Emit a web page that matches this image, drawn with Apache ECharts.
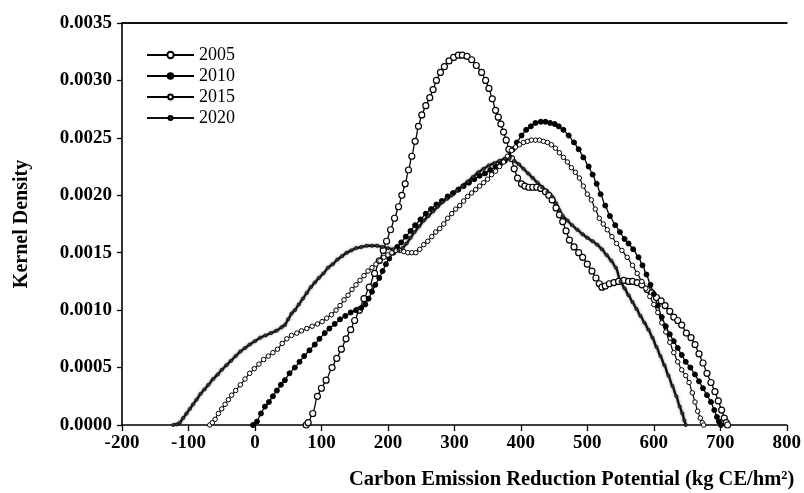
<!DOCTYPE html>
<html><head><meta charset="utf-8">
<script src="https://cdn.jsdelivr.net/npm/echarts@6/dist/echarts.min.js"></script>
<style>html,body{margin:0;padding:0;background:#fff}#c{width:804px;height:493px}</style>
</head><body><div id="c"></div>
<script>
const years = ['2005', '2010', '2015', '2020'];
const xTitle = 'Carbon Emission Reduction Potential (kg CE/hm²)';
const yTitle = 'Kernel Density';

const x2005 = [77,80,87,94,100,107,116,123,130,137,144,150,157,164,172,180,187,193,198,204,210,216,221,226,231,236,241,246,251,257,263,268,273,279,285,292,299,306,312,319,326,333,341,347,352,357,362,366,370,374,378,382,386,390,395,401,406,412,418,424,430,437,442,447,453,458,463,468,473,480,487,493,500,507,513,518,522,527,533,540,547,555,562,568,575,582,590,597,604,611,617,624,630,636,642,649,656,662,668,674,680,686,692,697,702,706,709,711];
const y2005 = [0,0.00002,0.0001,0.00025,0.00032,0.00039,0.0005,0.00058,0.00066,0.00075,0.00083,0.00091,0.001,0.0011,0.0012,0.00132,0.00143,0.00152,0.0016,0.0017,0.0018,0.0019,0.002,0.0021,0.00222,0.00234,0.00247,0.0026,0.0027,0.00278,0.00285,0.00292,0.003,0.00307,0.00312,0.00317,0.0032,0.00322,0.00322,0.00321,0.00318,0.00313,0.00307,0.003,0.00293,0.00284,0.00274,0.00268,0.00262,0.00255,0.00248,0.0024,0.00232,0.00223,0.00215,0.0021,0.00208,0.00207,0.00207,0.00207,0.00206,0.00203,0.002,0.00196,0.00189,0.00183,0.00177,0.00169,0.00161,0.00155,0.0015,0.00146,0.0014,0.00134,0.00128,0.00123,0.0012,0.00121,0.00123,0.00124,0.00125,0.00126,0.00125,0.00125,0.00124,0.00122,0.00118,0.00115,0.00111,0.00108,0.00104,0.00099,0.00094,0.00091,0.00087,0.0008,0.00076,0.0007,0.00062,0.00054,0.00045,0.00037,0.00029,0.00021,0.00013,0.00006,0.00002,0];

const x2010 = [-3,3,9,15,21,27,33,39,45,52,60,67,74,82,90,97,105,112,120,128,136,144,152,160,166,171,176,181,187,192,197,202,208,214,220,227,234,241,249,257,265,273,281,290,298,306,314,322,330,338,346,354,362,370,376,382,388,394,401,408,415,422,430,437,444,451,457,464,472,480,487,494,502,508,514,520,527,534,542,549,556,562,569,577,583,589,595,600,606,612,618,624,630,636,642,648,655,662,668,674,680,686,691,695,698,701];
const y2010 = [0,0.00003,0.0001,0.00016,0.0002,0.00025,0.0003,0.00035,0.00039,0.00045,0.0005,0.00055,0.0006,0.00065,0.0007,0.00075,0.0008,0.00084,0.00088,0.00092,0.00095,0.00098,0.001,0.00102,0.00105,0.0011,0.00116,0.00122,0.00128,0.00134,0.0014,0.00145,0.0015,0.00155,0.00159,0.00164,0.00169,0.00174,0.00179,0.00184,0.00188,0.00192,0.00195,0.00199,0.00202,0.00205,0.00208,0.00211,0.00214,0.00217,0.00219,0.00222,0.00225,0.00228,0.0023,0.00234,0.0024,0.00246,0.00252,0.00257,0.0026,0.00263,0.00264,0.00264,0.00263,0.00262,0.0026,0.00257,0.00252,0.00246,0.0024,0.00233,0.00225,0.00218,0.0021,0.00201,0.00191,0.00182,0.00174,0.00168,0.00162,0.00158,0.00153,0.00146,0.00139,0.00131,0.00122,0.00114,0.00104,0.00094,0.00086,0.00079,0.00073,0.00067,0.00061,0.00055,0.0005,0.00044,0.00038,0.00032,0.00026,0.0002,0.00013,0.00007,0.00003,0];

const x2015 = [-68,-64,-60,-55,-50,-45,-40,-35,-29,-22,-15,-8,-1,6,13,20,27,34,41,48,55,63,70,78,86,94,101,108,115,122,128,134,140,146,152,158,164,170,176,182,188,194,200,206,212,218,224,230,236,242,248,254,260,266,272,278,284,290,296,302,308,314,320,326,332,338,344,350,356,362,368,374,380,386,392,398,404,410,416,422,428,434,440,446,452,458,464,470,476,482,488,494,500,506,512,518,524,530,537,544,552,560,568,575,582,588,594,600,606,612,618,624,630,636,642,648,653,658,662,666,670,673,675];
const y2015 = [0,0.00002,0.00005,0.0001,0.00014,0.00018,0.00022,0.00026,0.0003,0.00035,0.0004,0.00045,0.00049,0.00053,0.00057,0.0006,0.00063,0.00066,0.00071,0.00075,0.00078,0.0008,0.00082,0.00084,0.00086,0.00088,0.0009,0.00093,0.00096,0.001,0.00104,0.00109,0.00113,0.00118,0.00122,0.00126,0.0013,0.00134,0.00137,0.0014,0.00143,0.00146,0.00148,0.0015,0.00152,0.00152,0.00151,0.0015,0.0015,0.0015,0.00153,0.00157,0.0016,0.00164,0.00168,0.00171,0.00175,0.0018,0.00184,0.00188,0.00191,0.00195,0.00199,0.00202,0.00205,0.00208,0.00211,0.00214,0.00218,0.00221,0.00225,0.00229,0.00234,0.00239,0.00242,0.00244,0.00246,0.00247,0.00248,0.00248,0.00248,0.00247,0.00246,0.00244,0.00241,0.00237,0.00233,0.00229,0.00224,0.0022,0.00215,0.00208,0.00201,0.00196,0.00188,0.0018,0.00175,0.0017,0.00164,0.00158,0.00152,0.00146,0.00139,0.00132,0.00125,0.00119,0.00112,0.00105,0.00098,0.00089,0.00081,0.00072,0.00063,0.00055,0.00048,0.00043,0.00037,0.00028,0.0002,0.00012,0.00006,0.00002,0];

const x2020 = [-123,-118,-113,-108,-103,-98,-93,-88,-82,-76,-70,-63,-56,-50,-43,-36,-29,-22,-15,-8,0,8,16,24,32,40,45,50,55,60,66,72,78,84,90,96,103,110,117,124,131,138,145,152,160,168,176,184,192,200,208,216,222,228,234,240,247,254,261,268,275,282,289,296,304,312,320,328,336,344,352,360,368,376,383,390,397,404,411,418,425,432,440,447,453,458,463,470,477,485,493,500,508,515,522,529,536,543,550,556,562,568,574,580,586,592,598,604,610,616,622,628,634,639,643,646,648];
const y2020 = [0,0.000005,0.00002,0.00006,0.0001,0.00014,0.00018,0.00022,0.00027,0.00031,0.00035,0.0004,0.00044,0.00048,0.00052,0.00056,0.0006,0.00064,0.00067,0.0007,0.00073,0.00076,0.00078,0.0008,0.00082,0.00085,0.00087,0.00092,0.00097,0.001,0.00105,0.0011,0.00115,0.0012,0.00124,0.00128,0.00132,0.00137,0.0014,0.00144,0.00147,0.0015,0.00152,0.00154,0.00155,0.00156,0.00156,0.00156,0.00155,0.00154,0.00153,0.00152,0.00154,0.00158,0.00163,0.00168,0.00173,0.00178,0.00182,0.00186,0.0019,0.00194,0.00197,0.002,0.00204,0.00208,0.00212,0.00216,0.0022,0.00223,0.00226,0.00228,0.0023,0.00232,0.00232,0.0023,0.00227,0.00223,0.00219,0.00215,0.00211,0.00207,0.00203,0.00199,0.00193,0.00187,0.00182,0.00178,0.00174,0.0017,0.00166,0.00163,0.0016,0.00157,0.00153,0.00148,0.00143,0.00137,0.00125,0.00119,0.00113,0.00107,0.00101,0.00095,0.00089,0.00083,0.00076,0.00068,0.0006,0.00052,0.00043,0.00034,0.00025,0.00016,0.0001,0.00004,0];

const FONT = '"Liberation Serif","Times New Roman",serif';
function pairs(xs, ys) { return xs.map((x, i) => [x, ys[i]]); }

const styles = {
  '2005': { symbolSize: 6, fill: '#fff', bw: 1.2, lw: 1.3, legendH: 8 },
  '2010': { symbolSize: 5, fill: '#000', bw: 1, lw: 1.3, legendH: 7 },
  '2015': { symbolSize: 4.5, fill: '#fff', bw: 1, lw: 1.2, legendH: 6 },
  '2020': { symbolSize: 3.5, fill: '#333', bw: 0.5, lw: 2.4, legendH: 5 }
};
const dataMap = {
  '2005': pairs(x2005, y2005),
  '2010': pairs(x2010, y2010),
  '2015': pairs(x2015, y2015),
  '2020': pairs(x2020, y2020)
};

const series = years.map(y => {
  const s = styles[y];
  return {
    name: y, type: 'line', data: dataMap[y],
    smooth: 0.3, smoothMonotone: 'x',
    symbol: 'circle', symbolSize: s.symbolSize, showSymbol: true, showAllSymbol: true,
    itemStyle: { color: s.fill, borderColor: '#000', borderWidth: s.bw },
    lineStyle: y === '2020'
      ? { color: '#111', width: s.lw, shadowBlur: 3, shadowColor: 'rgba(0,0,0,0.45)' }
      : { color: '#000', width: s.lw },
    emphasis: { disabled: true },
    animation: false
  };
});

const legends = years.map((y, i) => ({
  data: [y], orient: 'vertical', left: 141, top: 41 + i * 21,
  itemWidth: 47, itemHeight: styles[y].legendH,
  textStyle: { fontFamily: FONT, fontSize: 18, color: '#000', lineHeight: 18 },
  selectedMode: false
}));

const chart = echarts.init(document.getElementById('c'), null, { renderer: 'canvas' });
chart.setOption({
  backgroundColor: '#fff',
  animation: false,
  title: {
    text: xTitle, left: 344, top: 464,
    textStyle: { fontFamily: FONT, fontSize: 20.5, fontWeight: 'bold', color: '#000' }
  },
  legend: legends,
  grid: { left: 122, right: 15, top: 23, bottom: 68, containLabel: false },
  xAxis: [{
    type: 'value', min: -200, max: 800, interval: 100,
    axisLine: { show: true, onZero: false, lineStyle: { color: '#000', width: 1.6 } },
    axisTick: { show: true, inside: false, length: 6, lineStyle: { color: '#000', width: 1.3 } },
    axisLabel: { fontFamily: FONT, fontSize: 19, fontWeight: 'bold', color: '#000', margin: 9 },
    splitLine: { show: false }
  }, {
    type: 'value', position: 'top', min: -200, max: 800,
    axisLine: { show: true, onZero: false, lineStyle: { color: '#111', width: 2 } },
    axisTick: { show: false }, axisLabel: { show: false }, splitLine: { show: false }
  }],
  yAxis: {
    type: 'value', min: 0, max: 0.0035, interval: 0.0005,
    name: yTitle, nameLocation: 'middle', nameGap: 90,
    nameTextStyle: { fontFamily: FONT, fontSize: 20, fontWeight: 'bold', color: '#000' },
    axisLine: { show: true, onZero: false, lineStyle: { color: '#000', width: 1.6 } },
    axisTick: { show: true, inside: false, length: 5, lineStyle: { color: '#000', width: 1.3 } },
    axisLabel: { fontFamily: FONT, fontSize: 19, fontWeight: 'bold', color: '#000', margin: 10,
      formatter: v => v.toFixed(4) },
    splitLine: { show: false }
  },
  series: series
});
</script>
</body></html>
